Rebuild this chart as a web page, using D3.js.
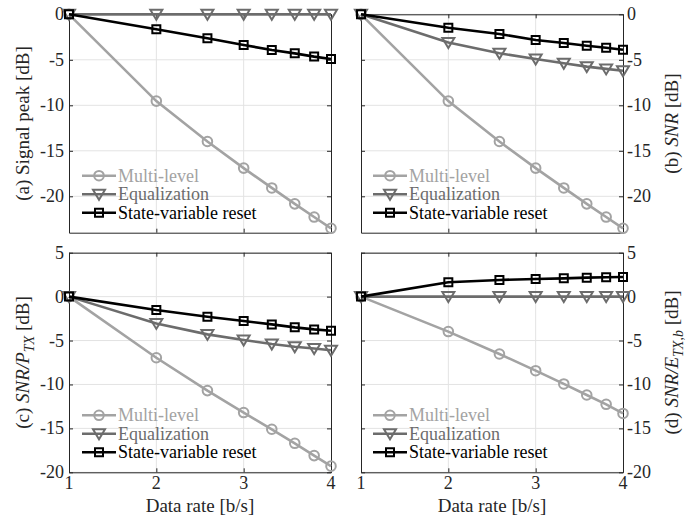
<!DOCTYPE html>
<html>
<head>
<meta charset="utf-8">
<script src="https://cdn.jsdelivr.net/npm/d3@7"></script>
<style>
  body { margin: 0; background: #fff; }
  svg text { font-family: "Liberation Serif", "Times New Roman", serif; }
</style>
</head>
<body>
<svg id="chart" width="687" height="522" font-family="Liberation Serif, serif"></svg>
<script>
// data rate [b/s] for M = 2, 4, 6, ..., 16
var rates = [1, 2, 2.585, 3, 3.322, 3.585, 3.807, 4];
var seriesNames = ["Multi-level", "Equalization", "State-variable reset"];

// (a) signal peak
var peakMulti = [0, -9.54, -13.98, -16.9, -19.08, -20.83, -22.28, -23.52];
var peakEq    = [0, 0, 0, 0, 0, 0, 0, 0];
var peakReset = [0, -1.65, -2.64, -3.37, -3.92, -4.29, -4.65, -4.91];

// (b) SNR
var snrMulti = [0, -9.54, -13.98, -16.9, -19.08, -20.83, -22.28, -23.52];
var snrEq    = [0, -3.1, -4.29, -4.91, -5.38, -5.75, -6.0, -6.2];
var snrReset = [0, -1.47, -2.16, -2.82, -3.15, -3.45, -3.67, -3.89];

// (c) SNR / P_TX
var ptxMulti = [0, -6.96, -10.7, -13.2, -15.1, -16.7, -18.1, -19.3];
var ptxEq    = [0, -3.05, -4.3, -4.94, -5.4, -5.7, -5.9, -6.1];
var ptxReset = [0, -1.53, -2.29, -2.78, -3.16, -3.5, -3.73, -3.88];

// (d) SNR / E_TX,b
var etxMulti = [0, -3.98, -6.53, -8.43, -9.94, -11.2, -12.26, -13.3];
var etxEq    = [0, 0, 0, 0, 0, 0, 0, 0];
var etxReset = [0, 1.64, 1.9, 2.01, 2.08, 2.16, 2.2, 2.24];

var xTicks = [1, 2, 3, 4];
var yTicksTop = [0, -5, -10, -15, -20];
var yTicksBottom = [5, 0, -5, -10, -15, -20];

var colors = ["#a3a3a3", "#6c6c6c", "#000000"];
var markers = ["circle", "triangle", "square"];

var svg = d3.select("#chart");

function drawPanel(p) {
  var x = d3.scaleLinear().domain([1, 4]).range([p.left, p.right]);
  var y = d3.scaleLinear().domain(p.yDomain).range([p.bottom, p.top]);
  var g = svg.append("g");

  // grid
  g.selectAll(".gx").data(xTicks.slice(1, -1)).enter().append("line")
    .attr("x1", function (d) { return x(d); }).attr("x2", function (d) { return x(d); })
    .attr("y1", p.top).attr("y2", p.bottom)
    .attr("stroke", "#e3e3e3").attr("stroke-width", 1);
  g.selectAll(".gy").data(p.yTicks).enter().append("line")
    .attr("x1", p.left).attr("x2", p.right)
    .attr("y1", function (d) { return y(d); }).attr("y2", function (d) { return y(d); })
    .attr("stroke", "#e3e3e3").attr("stroke-width", 1);

  // axes (box with inward ticks on all sides)
  var tk = 4;
  var axB = g.append("g").attr("transform", "translate(0," + p.bottom + ")")
    .call(d3.axisBottom(x).tickValues(xTicks).tickSizeInner(-tk).tickSizeOuter(0).tickFormat(""));
  var axT = g.append("g").attr("transform", "translate(0," + p.top + ")")
    .call(d3.axisTop(x).tickValues(xTicks).tickSizeInner(-tk).tickSizeOuter(0).tickFormat(""));
  var axL = g.append("g").attr("transform", "translate(" + p.left + ",0)")
    .call(d3.axisLeft(y).tickValues(p.yTicks).tickSizeInner(-tk).tickSizeOuter(0).tickFormat(""));
  var axR = g.append("g").attr("transform", "translate(" + p.right + ",0)")
    .call(d3.axisRight(y).tickValues(p.yTicks).tickSizeInner(-tk).tickSizeOuter(0).tickFormat(""));
  [axB, axT, axL, axR].forEach(function (a) {
    a.selectAll("path, line").attr("stroke", "#262626").attr("stroke-width", 1);
  });

  // tick labels
  if (p.showX) {
    g.selectAll(".xl").data(xTicks).enter().append("text")
      .attr("x", function (d) { return x(d); }).attr("y", p.bottom + 11)
      .attr("text-anchor", "middle").attr("dominant-baseline", "central")
      .attr("font-size", 18).attr("fill", "#262626")
      .text(function (d) { return d; });
    g.append("text")
      .attr("x", (p.left + p.right) / 2).attr("y", p.bottom + 33)
      .attr("text-anchor", "middle").attr("dominant-baseline", "central")
      .attr("font-size", 19).attr("fill", "#262626")
      .text("Data rate [b/s]");
  }
  var yl = g.selectAll(".yl").data(p.yTicks).enter().append("text")
    .attr("y", function (d) { return y(d); })
    .attr("dominant-baseline", "central")
    .attr("font-size", 18).attr("fill", "#262626")
    .text(function (d) { return d; });
  if (p.side === "left") yl.attr("x", p.left - 5).attr("text-anchor", "end");
  else yl.attr("x", p.right + 4).attr("text-anchor", "start");

  // y label
  var lx = p.side === "left" ? p.left - 47 : p.right + 48;
  var lab = g.append("text")
    .attr("transform", "translate(" + lx + "," + (p.top + p.bottom) / 2 + ") rotate(-90)")
    .attr("text-anchor", "middle").attr("dominant-baseline", "central")
    .attr("font-size", 19).attr("fill", "#262626");
  p.label.forEach(function (s) {
    var t = lab.append("tspan").text(s.t);
    if (s.i) t.attr("font-style", "italic");
    if (s.sub) t.attr("baseline-shift", "sub").attr("font-size", 14);
  });

  // series
  var line = d3.line()
    .x(function (d, i) { return x(rates[i]); })
    .y(function (d) { return y(d); });
  p.series.forEach(function (vals, k) {
    g.append("path").datum(vals)
      .attr("d", line).attr("fill", "none")
      .attr("stroke", colors[k]).attr("stroke-width", 2.6);
    g.selectAll(".m" + k).data(vals).enter().append("path")
      .attr("transform", function (d, i) { return "translate(" + x(rates[i]) + "," + y(d) + ")"; })
      .attr("d", markerPath(markers[k]))
      .attr("fill", "none").attr("stroke", colors[k]).attr("stroke-width", 2);
  });

  // legend
  var lgX = p.left + p.legendDx;
  var lgY = p.bottom - 57;
  seriesNames.forEach(function (name, k) {
    var yy = lgY + k * 18.5;
    g.append("line").attr("x1", lgX).attr("x2", lgX + 34)
      .attr("y1", yy).attr("y2", yy)
      .attr("stroke", colors[k]).attr("stroke-width", 2.6);
    g.append("path").attr("transform", "translate(" + (lgX + 17) + "," + yy + ")")
      .attr("d", markerPath(markers[k]))
      .attr("fill", "none").attr("stroke", colors[k]).attr("stroke-width", 2);
    g.append("text").attr("x", lgX + 36).attr("y", yy)
      .attr("dominant-baseline", "central")
      .attr("font-size", 18).attr("fill", colors[k])
      .text(name);
  });
}

function markerPath(kind) {
  if (kind === "circle") return d3.symbol(d3.symbolCircle, 72)();
  if (kind === "square") return "M-4,-4H4V4H-4Z";
  return "M-6,-4.5L6,-4.5L0,5.5Z";
}

var colL = [69, 331], colR = [361, 623];
var rowT = [14.3, 232.7], rowB = [252.7, 472.3];

drawPanel({ left: colL[0], right: colL[1], top: rowT[0], bottom: rowT[1],
  yDomain: [-24, 0], yTicks: yTicksTop, side: "left", showX: false, legendDx: 13,
  label: [{ t: "(a) Signal peak [dB]" }],
  series: [peakMulti, peakEq, peakReset] });
drawPanel({ left: colR[0], right: colR[1], top: rowT[0], bottom: rowT[1],
  yDomain: [-24, 0], yTicks: yTicksTop, side: "right", showX: false, legendDx: 12,
  label: [{ t: "(b) " }, { t: "SNR", i: true }, { t: " [dB]" }],
  series: [snrMulti, snrEq, snrReset] });
drawPanel({ left: colL[0], right: colL[1], top: rowB[0], bottom: rowB[1],
  yDomain: [-20, 5], yTicks: yTicksBottom, side: "left", showX: true, legendDx: 13,
  label: [{ t: "(c) " }, { t: "SNR/P", i: true }, { t: "TX", i: true, sub: true }, { t: " [dB]" }],
  series: [ptxMulti, ptxEq, ptxReset] });
drawPanel({ left: colR[0], right: colR[1], top: rowB[0], bottom: rowB[1],
  yDomain: [-20, 5], yTicks: yTicksBottom, side: "right", showX: true, legendDx: 12,
  label: [{ t: "(d) " }, { t: "SNR/E", i: true }, { t: "TX,b", i: true, sub: true }, { t: " [dB]" }],
  series: [etxMulti, etxEq, etxReset] });
</script>
</body>
</html>
